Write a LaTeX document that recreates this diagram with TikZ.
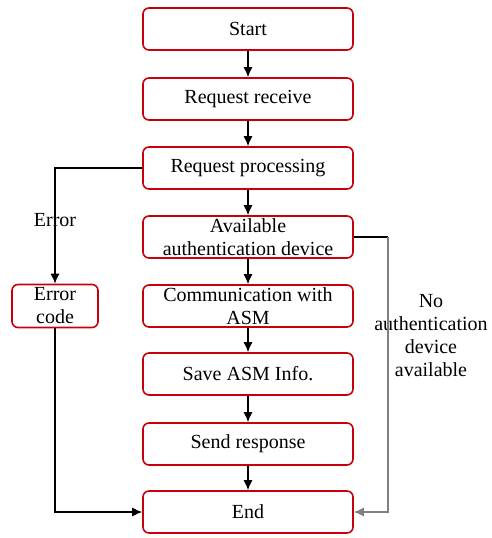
\documentclass[tikz,border=0pt]{standalone}
\usepackage{fontspec}
\setmainfont{Liberation Serif}
\usetikzlibrary{arrows.meta}
\usetikzlibrary{positioning}
\tikzset{>={Latex[length=10pt,width=9pt]}}
\definecolor{boxred}{RGB}{200,0,10}
\definecolor{linegray}{RGB}{128,128,128}
\def\linethickness{1.6pt}
\tikzset{
    stepbox/.style={draw=boxred, line width=\linethickness, rounded corners=6pt,
        minimum width=210pt, minimum height=42pt, align=center, inner sep=1pt},
    errbox/.style={stepbox, minimum width=86pt, minimum height=43pt},
    flow/.style={->, line width=1.2pt},
}

\begin{document}
\begin{tikzpicture}[x=1pt, y=1pt, font=\fontsize{20}{23}\selectfont]
    \useasboundingbox (0, 0) rectangle (492, -538);
    \node[stepbox] (start) at (248, -29) {Start};
    \node[stepbox] (recv) at (248, -99) {Request receive};
    \node[stepbox] (proc) at (248, -168) {Request processing};
    \node[stepbox] (avail) at (248, -237) {Available\\authentication device};
    \node[stepbox] (comm) at (248, -306) {Communication with\\ASM};
    \node[stepbox] (save) at (248, -374) {Save ASM Info.};
    \node[stepbox] (send) at (248, -444) {Send response};
    \node[stepbox] (end) at (248, -512) {End};
    \node[errbox] (err) at (55, -306) {Error\\code};
    \node at (55, -220) (errlabel) {Error};
    \node[align=center] at (431, -336) (nolabel) {No\\authentication\\device\\available};
    \coordinate (pc) at (err |- proc);
    \coordinate (ac) at (388, 0 |- avail);
    \draw[flow] (start) -- (recv);
    \draw[flow] (recv) -- (proc);
    \draw[flow] (proc) -- (avail);
    \draw[flow] (avail) -- (comm);
    \draw[flow] (comm) -- (save);
    \draw[flow] (save) -- (send);
    \draw[flow] (send) -- (end);
    \draw[flow] (proc.west) -- (pc) -- (err.north);
    \draw[flow] (err.south) |- (end.west);
    \draw[line width=1.2pt] (avail.east) -- (ac);
    \draw[flow, linegray] (ac) |- (end.east);
\end{tikzpicture}
\end{document}
